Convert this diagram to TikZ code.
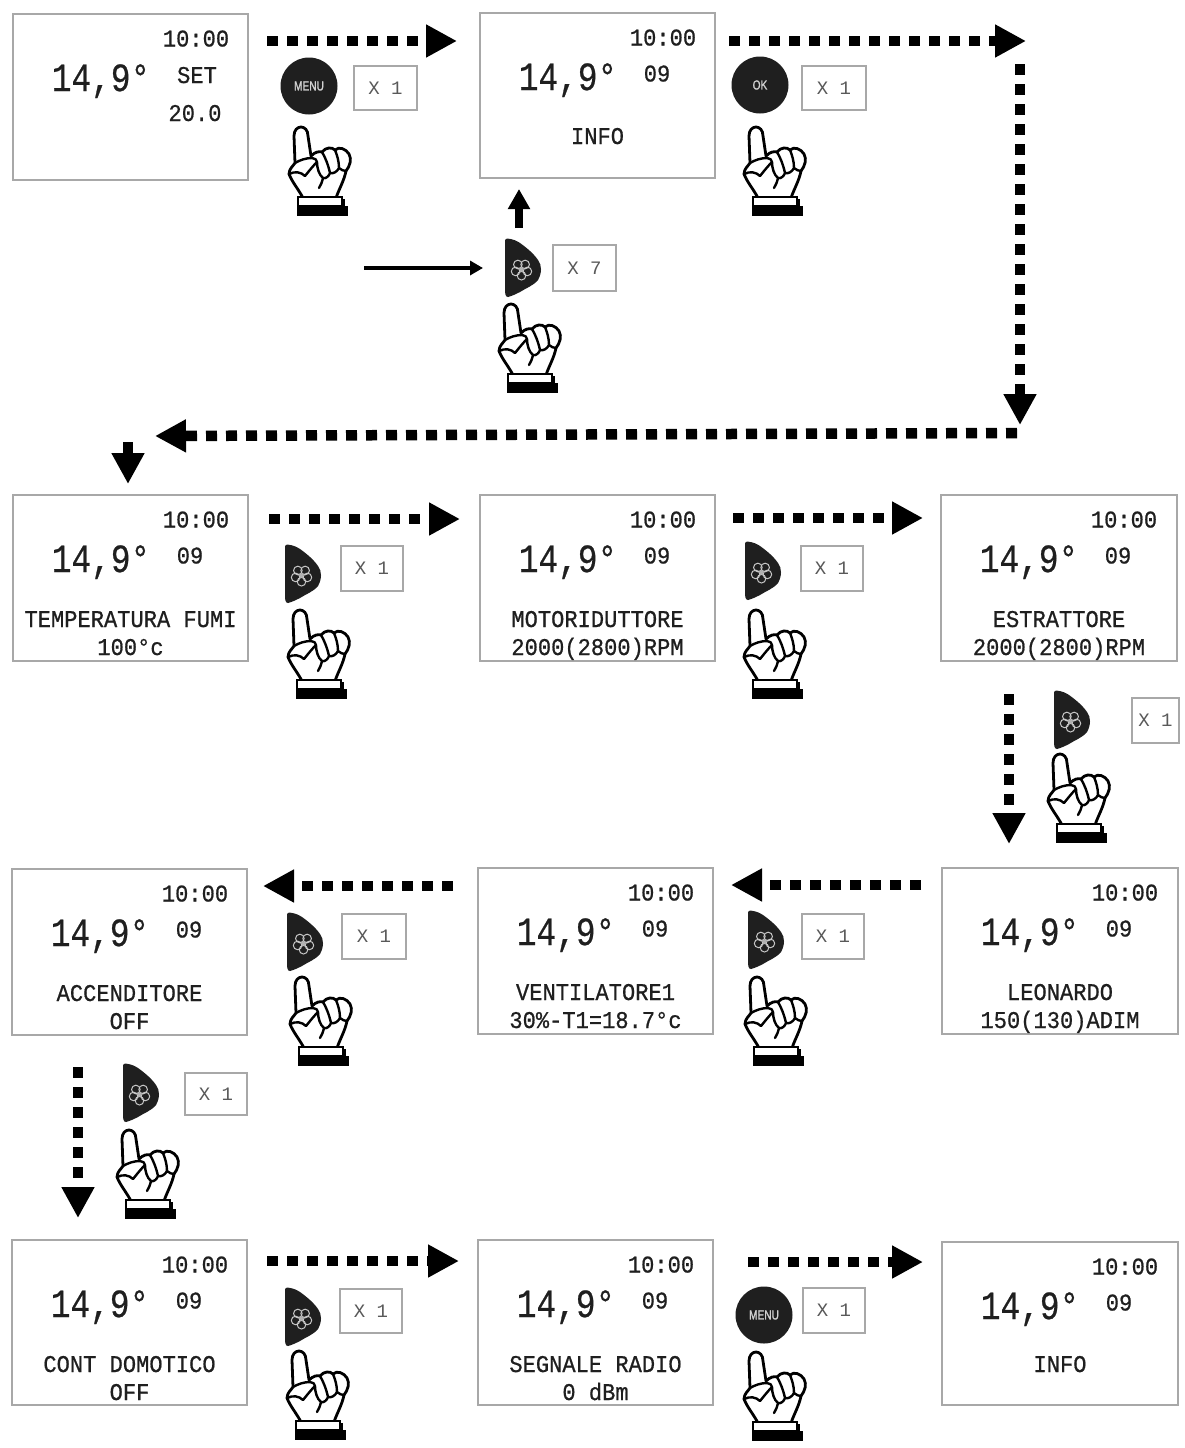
\documentclass[tikz,border=0pt]{standalone}
\usepackage{fontspec}
\setmainfont{Liberation Mono}
\newfontfamily\bigfont[FakeStretch=.82,FakeBold=.6]{Liberation Mono}
\newfontfamily\smallfont[FakeStretch=.92,FakeBold=.7]{Liberation Mono}
\newfontfamily\btnfont[FakeStretch=.78,FakeBold=1.5]{Liberation Sans}
\usetikzlibrary{arrows.meta,calc}
\definecolor{lcdgray}{gray}{0.66}
\definecolor{inktext}{gray}{0.12}
\newcommand{\fsz}[1]{\fontsize{#1}{#1}\selectfont}
\tikzset{
  lcdbox/.style={draw=lcdgray,line width=1.1pt,fill=white,anchor=north west,inner sep=0pt,outer sep=0pt},
  bigtext/.style={font=\bigfont\fsz{40},text=inktext,inner sep=0pt,anchor=base},
  smalltext/.style={font=\smallfont\fsz{24},text=inktext,inner sep=0pt,anchor=base},
  xbox/.style={draw=lcdgray,line width=1.1pt,fill=white,inner sep=0pt,font=\fsz{19},text=black!65},
  roundbtn/.style={circle,fill=black!88,inner sep=0pt,minimum size=57pt,text=white!82!black,font=\btnfont\fsz{13}},
  dotarrow/.style={line width=10.5pt,dash pattern=on 11pt off 9pt,-{Triangle[length=31pt,width=31pt]}},
  thinarrow/.style={line width=3.4pt,-{Triangle[length=13pt,width=14pt]}},
  uparrow/.style={line width=7.5pt,-{Triangle[length=20pt,width=21pt]}},
  pics/hand/.style={code={
    \draw[line width=2.8pt,fill=white,line join=round]
      (14,71) .. controls (10,63) and (3,55) .. (0,47)
      .. controls (0,42) and (4,39) .. (6,36)
      -- (5,9) .. controls (5,-3) and (19,-3) .. (19,9)
      -- (22,29) .. controls (26,25) and (30,24) .. (33,25)
      .. controls (37,20) and (43,20) .. (46,23)
      .. controls (50,19) and (57,22) .. (60,27)
      .. controls (63,32) and (61,39) .. (57,44)
      .. controls (55,54) and (50,62) .. (47,71) -- cycle;
    \draw[line width=2.4pt,line cap=round,line join=round]
      (6,36) .. controls (11,33) and (17,31) .. (23,31)
      .. controls (26,31) and (28,33) .. (28,35)
      .. controls (24,39) and (20,44) .. (16,49)
      (0,47) .. controls (6,44) and (12,45) .. (16,49)
      (28,35) .. controls (28,41) and (30,48) .. (34,51)
      .. controls (37,52) and (40,49) .. (41,46)
      .. controls (44,47) and (48,45) .. (50,41)
      .. controls (52,43) and (55,44) .. (57,44)
      (34,51) .. controls (33,55) and (32,58) .. (30,61)
      (33,25) .. controls (36,30) and (39,37) .. (41,46)
      (46,23) .. controls (48,28) and (50,34) .. (50,41);
    \draw[line width=2.3pt,fill=white] (9,70) rectangle (53,79);
    \fill[black] (8,79) rectangle (59,89);
    \fill[black] (53,72) rectangle (56,80);
  }},
  pics/fanbtn/.style={code={
    \fill[black!88] (2,-29.5) .. controls (8,-29) and (12,-27) .. (15,-25)
      .. controls (22,-20) and (29,-14) .. (33,-8)
      .. controls (37,-3) and (37,5) .. (33,12)
      .. controls (28,18) and (21,20) .. (15,24)
      .. controls (11,26) and (7,28) .. (3,29)
      .. controls (0,29) and (0,25) .. (0,20) -- (0,-24)
      .. controls (0,-28) and (0,-29.5) .. (2,-29.5) -- cycle;
    \foreach \a in {18,90,162,234,306}
      \draw[white!78!black,line width=1pt] (16.5,1.5)+(\a:6.2) circle[radius=4.3];
    \fill[white!70!black] (16.5,1.5) circle[radius=2];
  }},
}
% name, x, y, w, h, line 1, line 2, line 1 y offset
\newcommand{\lcd}[8]{%
  \node[lcdbox,minimum width=#4pt,minimum height=#5pt] (#1) at (#2,#3) {};
  \node[smalltext] (#1time) at ($(#1.north west)+(183,32.5)$) {10:00};
  \node[bigtext] (#1temp) at ($(#1.north west)+(88,77)$) {14,9°};
  \node[smalltext] (#1num) at ($(#1.north west)+(177,68.5)$) {09};
  \node[smalltext] (#1la) at ($(#1.north)+(0,#8+8)$) {#6};
  \node[smalltext] (#1lb) at ($(#1.north)+(0,160)$) {#7};
}
\begin{document}
\begin{tikzpicture}[x=1pt,y=-1pt]
\useasboundingbox (0,0) rectangle (1184,1448);
\fill[white] (0,0) rectangle (1184,1448);

% first box
\node[lcdbox,minimum width=235pt,minimum height=166pt] (A) at (13,14) {};
\node[smalltext] (Atime) at ($(A.north west)+(183,32.5)$) {10:00};
\node[bigtext] (Atemp) at ($(A.north west)+(88,77)$) {14,9°};
\node[smalltext] (Aset) at ($(A.north west)+(184,69)$) {SET};
\node[smalltext] (Aval) at ($(A.north west)+(182,107)$) {20.0};

\lcd{B}{480}{13}{235}{165}{INFO}{}{123}
\lcd{C}{13}{495}{235}{166}{TEMPERATURA FUMI}{100°c}{124}
\lcd{D}{480}{495}{235}{166}{MOTORIDUTTORE}{2000(2800)RPM}{124}
\lcd{E}{941}{495}{236}{166}{ESTRATTORE}{2000(2800)RPM}{124}
\lcd{F}{12}{869}{235}{166}{ACCENDITORE}{OFF}{124}
\lcd{G}{478}{868}{235}{166}{VENTILATORE1}{30\%-T1=18.7°c}{124}
\lcd{H}{942}{868}{236}{166}{LEONARDO}{150(130)ADIM}{124}
\lcd{I}{12}{1240}{235}{165}{CONT DOMOTICO}{OFF}{124}
\lcd{J}{478}{1240}{235}{165}{SEGNALE RADIO}{0 dBm}{124}
\lcd{K}{942}{1242}{236}{163}{INFO}{}{122}

% connector ends
\coordinate (a1) at (267,41);   \coordinate (a2) at (457,41);
\coordinate (b1) at (729,41);   \coordinate (b2) at (1026,41);
\coordinate (c1) at (1020,64);  \coordinate (c2) at (1020,425);
\coordinate (d1) at (1017,433); \coordinate (d2) at (155,436);
\coordinate (e1) at (128,442);  \coordinate (e2) at (128,484);
\coordinate (f1) at (269,519);  \coordinate (f2) at (460,519);
\coordinate (g1) at (733,518);  \coordinate (g2) at (923,518);
\coordinate (h1) at (1009,694); \coordinate (h2) at (1009,844);
\coordinate (i1) at (453,886);  \coordinate (i2) at (263,886);
\coordinate (j1) at (921,885);  \coordinate (j2) at (731,885);
\coordinate (k1) at (78,1067);  \coordinate (k2) at (78,1218);
\coordinate (l1) at (267,1261); \coordinate (l2) at (459,1261);
\coordinate (m1) at (748,1262); \coordinate (m2) at (923,1262);
\coordinate (n1) at (364,268);  \coordinate (n2) at (483,268);
\coordinate (o1) at (519,228);  \coordinate (o2) at (519,189);

\foreach \s/\t in {a1/a2,b1/b2,c1/c2,d1/d2,e1/e2,f1/f2,g1/g2,h1/h2,i1/i2,j1/j2,k1/k2,l1/l2,m1/m2}
  \draw[dotarrow] (\s) -- (\t);
\draw[thinarrow] (n1) -- (n2);
\draw[uparrow] (o1) -- (o2);

% round buttons
\node[roundbtn] (menuA) at (309,86) {MENU};
\node[roundbtn] (okB) at (760,85) {OK};
\node[roundbtn] (menuJ) at (764,1315) {MENU};

% fan buttons
\foreach \x/\y in {505/268,285/574,745/571,1054/720,748/940,287/942,123/1093,285/1317}
  \pic at (\x,\y) {fanbtn};

% hands
\foreach \x/\y in {289/127,744/127,499/304,288/610,744/610,1048/754,745/977,290/977,117/1130,287/1351,744/1352}
  \pic at (\x,\y) {hand};

% counters
\node[xbox,minimum width=63pt,minimum height=44pt] (x1) at (385.5,88) {X 1};
\node[xbox,minimum width=64pt,minimum height=44pt] (x2) at (834,88) {X 1};
\node[xbox,minimum width=63pt,minimum height=46pt] (x3) at (584.5,268) {X 7};
\node[xbox,minimum width=62pt,minimum height=45pt] (x4) at (372,568.5) {X 1};
\node[xbox,minimum width=62pt,minimum height=45pt] (x5) at (832,568.5) {X 1};
\node[xbox,minimum width=47pt,minimum height=45pt] (x6) at (1155.5,720.5) {X 1};
\node[xbox,minimum width=62pt,minimum height=45pt] (x7) at (833,936.5) {X 1};
\node[xbox,minimum width=64pt,minimum height=45pt] (x8) at (374,936.5) {X 1};
\node[xbox,minimum width=62pt,minimum height=42pt] (x9) at (216,1094) {X 1};
\node[xbox,minimum width=62pt,minimum height=44pt] (x10) at (371,1311) {X 1};
\node[xbox,minimum width=62pt,minimum height=45pt] (x11) at (834,1310.5) {X 1};
\end{tikzpicture}
\end{document}
